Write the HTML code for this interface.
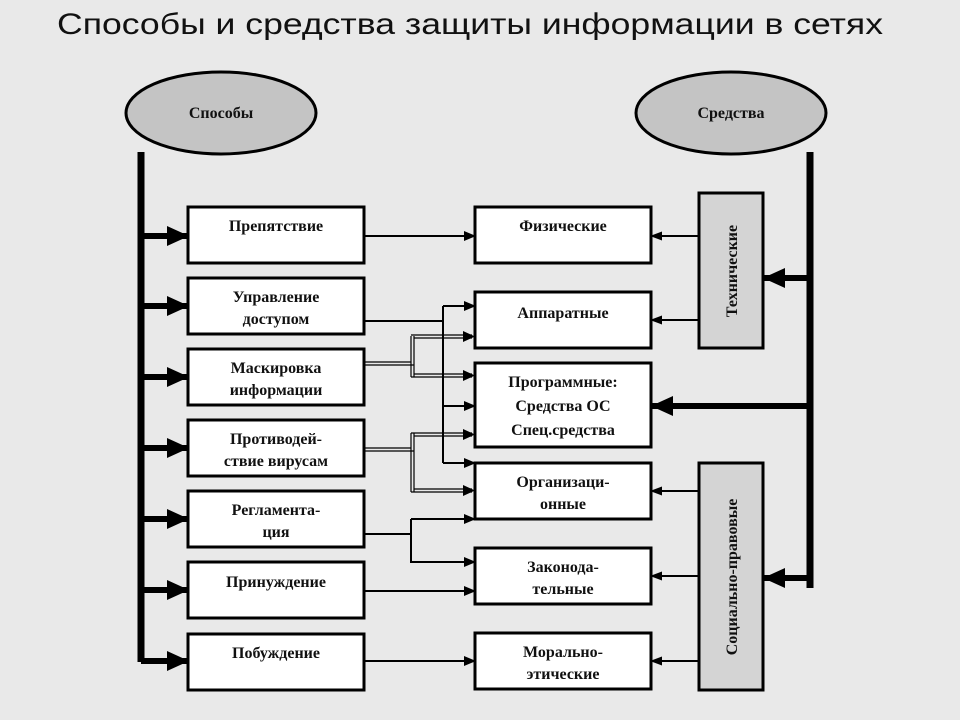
<!DOCTYPE html>
<html><head><meta charset="utf-8"><style>
html,body{margin:0;padding:0;background:#e9e9e9;}
svg{display:block}
.t{font-family:"Liberation Serif",serif;font-weight:bold;font-size:16px;fill:#111;text-anchor:middle}
</style></head><body>
<svg width="960" height="720" viewBox="0 0 960 720" xmlns="http://www.w3.org/2000/svg">
<defs>
<marker id="a" markerWidth="12" markerHeight="10" refX="11" refY="5" orient="auto" markerUnits="userSpaceOnUse"><path d="M0,0 L12,5 L0,10 Z" fill="#000"/></marker>
<marker id="s" markerWidth="12" markerHeight="9" refX="11" refY="4.5" orient="auto" markerUnits="userSpaceOnUse"><path d="M0,0 L12,4.5 L0,9 Z" fill="#000"/></marker>
<marker id="b" markerWidth="22" markerHeight="20" refX="21" refY="10" orient="auto" markerUnits="userSpaceOnUse"><path d="M0,0 L22,10 L0,20 Z" fill="#000"/></marker>
</defs>
<rect width="960" height="720" fill="#e9e9e9"/>
<text x="57" y="34" font-family="Liberation Sans Narrow,Liberation Sans,sans-serif" font-size="30" textLength="826" lengthAdjust="spacingAndGlyphs" fill="#111">Способы и средства защиты информации в сетях</text>

<!-- ellipses -->
<ellipse cx="221" cy="113" rx="95" ry="41" fill="#c4c4c4" stroke="#000" stroke-width="3"/>
<text class="t" x="221" y="118" font-size="17">Способы</text>
<ellipse cx="731" cy="113" rx="95" ry="41" fill="#c4c4c4" stroke="#000" stroke-width="3"/>
<text class="t" x="731" y="118" font-size="17">Средства</text>

<!-- left trunk -->
<line x1="141" y1="152" x2="141" y2="662" stroke="#000" stroke-width="7"/>
<g stroke="#000" stroke-width="6" marker-end="url(#b)">
<line x1="141" y1="236" x2="188" y2="236"/>
<line x1="141" y1="306" x2="188" y2="306"/>
<line x1="141" y1="377" x2="188" y2="377"/>
<line x1="141" y1="448" x2="188" y2="448"/>
<line x1="141" y1="519" x2="188" y2="519"/>
<line x1="141" y1="590" x2="188" y2="590"/>
<line x1="141" y1="661" x2="188" y2="661"/>
</g>

<!-- right trunk -->
<line x1="810" y1="152" x2="810" y2="588" stroke="#000" stroke-width="7"/>
<g stroke="#000" stroke-width="6" marker-end="url(#b)">
<line x1="810" y1="278" x2="764" y2="278"/>
<line x1="810" y1="406" x2="652" y2="406"/>
<line x1="810" y1="578" x2="764" y2="578"/>
</g>

<!-- left boxes -->
<g fill="#fff" stroke="#000" stroke-width="3">
<rect x="188" y="207" width="176" height="56"/>
<rect x="188" y="278" width="176" height="56"/>
<rect x="188" y="349" width="176" height="56"/>
<rect x="188" y="420" width="176" height="56"/>
<rect x="188" y="491" width="176" height="56"/>
<rect x="188" y="562" width="176" height="56"/>
<rect x="188" y="634" width="176" height="56"/>
<rect x="475" y="207" width="176" height="56"/>
<rect x="475" y="292" width="176" height="56"/>
<rect x="475" y="363" width="176" height="84"/>
<rect x="475" y="463" width="176" height="56"/>
<rect x="475" y="548" width="176" height="56"/>
<rect x="475" y="633" width="176" height="56"/>
</g>
<g fill="#d4d4d4" stroke="#000" stroke-width="3">
<rect x="699" y="193" width="64" height="155"/>
<rect x="699" y="463" width="64" height="227"/>
</g>
<text class="t" transform="translate(737,271) rotate(-90)" font-size="18">Технические</text>
<text class="t" transform="translate(737,577) rotate(-90)" font-size="18">Социально-правовые</text>

<g class="t">
<text class="t" x="276" y="231">Препятствие</text>
<text class="t" x="276" y="302">Управление</text>
<text class="t" x="276" y="324">доступом</text>
<text class="t" x="276" y="373">Маскировка</text>
<text class="t" x="276" y="395">информации</text>
<text class="t" x="276" y="444">Противодей-</text>
<text class="t" x="276" y="466">ствие вирусам</text>
<text class="t" x="276" y="515">Регламента-</text>
<text class="t" x="276" y="537">ция</text>
<text class="t" x="276" y="587">Принуждение</text>
<text class="t" x="276" y="658">Побуждение</text>
<text class="t" x="563" y="231">Физические</text>
<text class="t" x="563" y="318">Аппаратные</text>
<text class="t" x="563" y="387">Программные:</text>
<text class="t" x="563" y="411">Средства ОС</text>
<text class="t" x="563" y="435">Спец.средства</text>
<text class="t" x="563" y="487">Организаци-</text>
<text class="t" x="563" y="509">онные</text>
<text class="t" x="563" y="572">Законода-</text>
<text class="t" x="563" y="594">тельные</text>
<text class="t" x="563" y="657">Морально-</text>
<text class="t" x="563" y="679">этические</text>
</g>

<!-- thin connectors -->
<g stroke="#000" stroke-width="2" fill="none">
<line x1="364" y1="236" x2="475" y2="236" marker-end="url(#a)"/>
<line x1="364" y1="591" x2="475" y2="591" marker-end="url(#a)"/>
<line x1="364" y1="661" x2="475" y2="661" marker-end="url(#a)"/>
<!-- Управление -->
<polyline points="364,321 443,321"/>
<line x1="443" y1="306" x2="443" y2="463"/>
<line x1="443" y1="306" x2="475" y2="306" marker-end="url(#a)"/>
<line x1="443" y1="406" x2="475" y2="406" marker-end="url(#a)"/>
<line x1="443" y1="463" x2="475" y2="463" marker-end="url(#a)"/>
<!-- Регламентация -->
<line x1="364" y1="534" x2="411" y2="534"/>
<line x1="411" y1="519" x2="411" y2="563"/>
<line x1="411" y1="519" x2="475" y2="519" marker-end="url(#a)"/>
<line x1="411" y1="562" x2="475" y2="562" marker-end="url(#a)"/>
<!-- from Технические / Социально -->
<line x1="699" y1="236" x2="651" y2="236" marker-end="url(#s)"/>
<line x1="699" y1="320" x2="651" y2="320" marker-end="url(#s)"/>
<line x1="699" y1="491" x2="651" y2="491" marker-end="url(#s)"/>
<line x1="699" y1="576" x2="651" y2="576" marker-end="url(#s)"/>
<line x1="699" y1="661" x2="651" y2="661" marker-end="url(#s)"/>
</g>
<!-- double lines -->
<g stroke="#000" stroke-width="1.2" fill="none">
<polyline points="364,362 411,362"/><polyline points="364,365 414,365"/>
<polyline points="411,336 411,377"/><polyline points="414,336 414,377"/>
<polyline points="411,335 472,335"/><polyline points="414,338 472,338"/>
<polyline points="411,377 472,377"/><polyline points="414,374 472,374"/>
<polyline points="364,448 411,448"/><polyline points="364,451 414,451"/>
<polyline points="411,433 411,492"/><polyline points="414,433 414,492"/>
<polyline points="411,433 472,433"/><polyline points="414,436 472,436"/>
<polyline points="411,492 472,492"/><polyline points="414,489 472,489"/>
</g>
<g fill="#000">
<path d="M463,331 L475,336.5 L463,342 Z"/>
<path d="M463,370 L475,375.5 L463,381 Z"/>
<path d="M463,429 L475,434.5 L463,440 Z"/>
<path d="M463,485 L475,490.5 L463,496 Z"/>
</g>
</svg>
</body></html>
